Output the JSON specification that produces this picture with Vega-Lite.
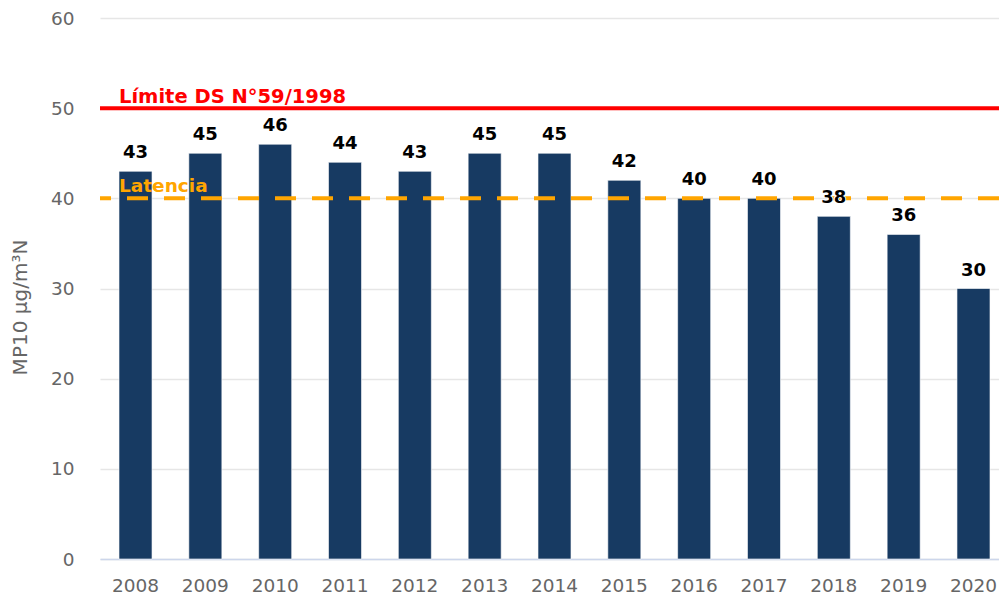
{
  "$schema": "https://vega.github.io/schema/vega-lite/v6.json",
  "autosize": "none",
  "width": 899,
  "height": 541,
  "padding": {"left": 100, "top": 18, "right": 0, "bottom": 36},
  "background": "white",
  "config": {
    "view": {"stroke": null},
    "font": "DejaVu Sans"
  },
  "data": {
    "values": [
      {"year": "2008", "value": 43},
      {"year": "2009", "value": 45},
      {"year": "2010", "value": 46},
      {"year": "2011", "value": 44},
      {"year": "2012", "value": 43},
      {"year": "2013", "value": 45},
      {"year": "2014", "value": 45},
      {"year": "2015", "value": 42},
      {"year": "2016", "value": 40},
      {"year": "2017", "value": 40},
      {"year": "2018", "value": 38},
      {"year": "2019", "value": 36},
      {"year": "2020", "value": 30}
    ]
  },
  "layer": [
    {
      "mark": {"type": "bar", "color": "#173a62", "stroke": "#ffffff", "strokeWidth": 0.6},
      "encoding": {
        "x": {
          "field": "year", "type": "ordinal",
          "scale": {"range": [0, 909], "paddingInner": 0.527, "paddingOuter": 0.272},
          "axis": {
            "title": null, "labelAngle": 0, "labelFontSize": 18.5, "labelColor": "#666666",
            "labelPadding": 17, "ticks": false, "domainColor": "#ccd6eb", "domainWidth": 1.5,
            "grid": false
          }
        },
        "y": {
          "field": "value", "type": "quantitative",
          "scale": {"domain": [0, 60], "nice": false},
          "axis": {
            "values": [0, 10, 20, 30, 40, 50, 60],
            "title": "MP10 µg/m³N", "titleFontSize": 20, "titleFontWeight": "normal",
            "titleColor": "#666666", "titleAngle": 270, "titleX": -80, "titleY": 289,
            "titleAlign": "center", "titleBaseline": "middle",
            "labelFontSize": 18.5, "labelColor": "#666666", "labelPadding": 26,
            "ticks": false, "domain": false, "gridColor": "#e6e6e6", "gridWidth": 1.5
          }
        }
      }
    },
    {
      "data": {"values": [{"y": 50, "label": "Límite DS N°59/1998"}]},
      "layer": [
        {
          "mark": {"type": "rule", "color": "#ff0000", "strokeWidth": 4},
          "encoding": {"y": {"field": "y", "type": "quantitative"}}
        },
        {
          "mark": {"type": "text", "color": "#ff0000", "fontSize": 19.5, "fontWeight": "bold", "align": "left", "baseline": "alphabetic", "x": 19, "dy": -5},
          "encoding": {
            "y": {"field": "y", "type": "quantitative"},
            "text": {"field": "label"}
          }
        }
      ]
    },
    {
      "data": {"values": [{"y": 40, "label": "Latencia"}]},
      "layer": [
        {
          "mark": {"type": "rule", "color": "#ffa500", "strokeWidth": 4, "strokeDash": [21, 16]},
          "encoding": {"y": {"field": "y", "type": "quantitative"}}
        },
        {
          "mark": {"type": "text", "color": "#ffa500", "fontSize": 18.5, "fontWeight": "bold", "align": "left", "baseline": "alphabetic", "x": 19, "dy": -6},
          "encoding": {
            "y": {"field": "y", "type": "quantitative"},
            "text": {"field": "label"}
          }
        }
      ]
    },
    {
      "mark": {"type": "text", "fontSize": 18, "fontWeight": "bold", "fill": "#ffffff", "stroke": "#ffffff", "strokeWidth": 2, "strokeJoin": "round", "baseline": "alphabetic", "dy": -13},
      "encoding": {
        "x": {"field": "year", "type": "ordinal"},
        "y": {"field": "value", "type": "quantitative"},
        "text": {"field": "value", "type": "quantitative"}
      }
    },
    {
      "mark": {"type": "text", "fontSize": 18, "fontWeight": "bold", "color": "#000000", "baseline": "alphabetic", "dy": -13},
      "encoding": {
        "x": {"field": "year", "type": "ordinal"},
        "y": {"field": "value", "type": "quantitative"},
        "text": {"field": "value", "type": "quantitative"}
      }
    }
  ]
}
